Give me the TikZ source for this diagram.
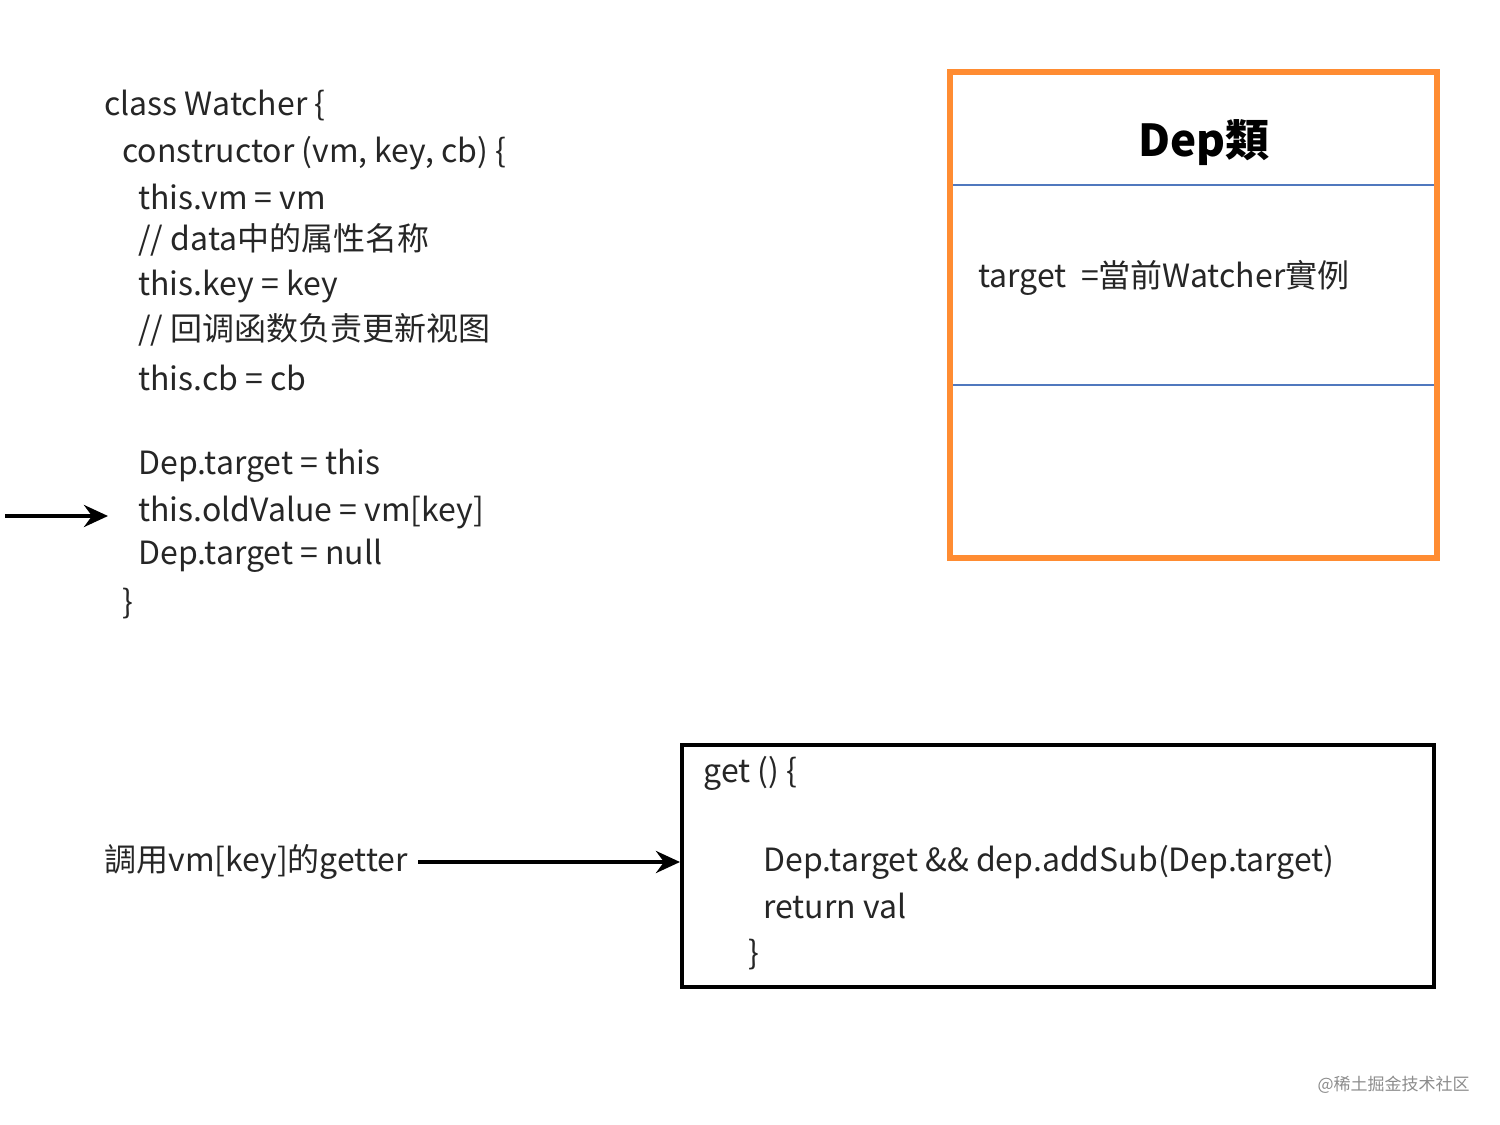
\documentclass[tikz,border=0pt]{standalone}
\usepackage{fontspec}
\setmainfont{Noto Sans CJK SC}
\usetikzlibrary{arrows.meta}
\begin{document}
\begin{tikzpicture}[x=0.5pt,y=-0.5pt,
  code/.style={anchor=west,inner sep=0pt,font=\fontsize{16}{19}\selectfont,text=black!85},
  arr/.style={-{Stealth[length=12pt,width=11pt,inset=4pt]},line width=2pt}]
\useasboundingbox (0,0) rectangle (1500,1125);
\node[code] (l1) at (104,105) {class Watcher \{};
\node[code] (l2) at (122,153) {constructor (vm, key, cb) \{};
\node[code] (l3) at (138,197) {this.vm = vm};
\node[code] (l4) at (138,240) {// data中的属性名称};
\node[code] (l5) at (138,287) {this.key = key};
\node[code] (l6) at (138,330) {// 回调函数负责更新视图};
\node[code] (l7) at (138,378) {this.cb = cb};
\node[code] (l8) at (138,466) {Dep.target = this};
\node[code] (l9) at (138,513) {this.oldValue = vm[key]};
\node[code] (l10) at (138,556) {Dep.target = null};
\node[code] (l11) at (122,604) {\}};
\coordinate (a0) at (5,516);
\draw[arr] (a0) -- (108,516);
% Dep box
\draw[line width=3pt,draw={rgb,255:red,255;green,140;blue,50}] (950,72) rectangle (1437,558);
\draw[line width=1pt,draw={rgb,255:red,80;green,120;blue,190}] (953,185) -- (1434,185) (953,385) -- (1434,385);
\node[inner sep=0pt,font=\fontsize{22}{25}\selectfont\bfseries] (dep) at (1204,143) {Dep類};
\node[code] (tg) at (978,278) {target \ =當前Watcher實例};
% get box
\node[draw,line width=2pt,minimum width=376pt,minimum height=121pt,inner sep=0pt,anchor=north west] (gb) at (680,743) {};
\node[code] (g1) at (703,773) {get () \{};
\node[code] (g2) at (763,862) {Dep.target \&\& dep.addSub(Dep.target)};
\node[code] (g3) at (763,906) {return val};
\node[code] (g4) at (748,955) {\}};
\node[code] (call) at (104,862) {調用vm[key]的getter};
\draw[arr] (call.east) ++(5pt,0) -- (gb.west |- call.east);
\node[anchor=east,inner sep=0pt,font=\fontsize{8.5}{10}\selectfont,text=black!45] (wm) at (1470,1085) {@稀土掘金技术社区};
\end{tikzpicture}
\end{document}
